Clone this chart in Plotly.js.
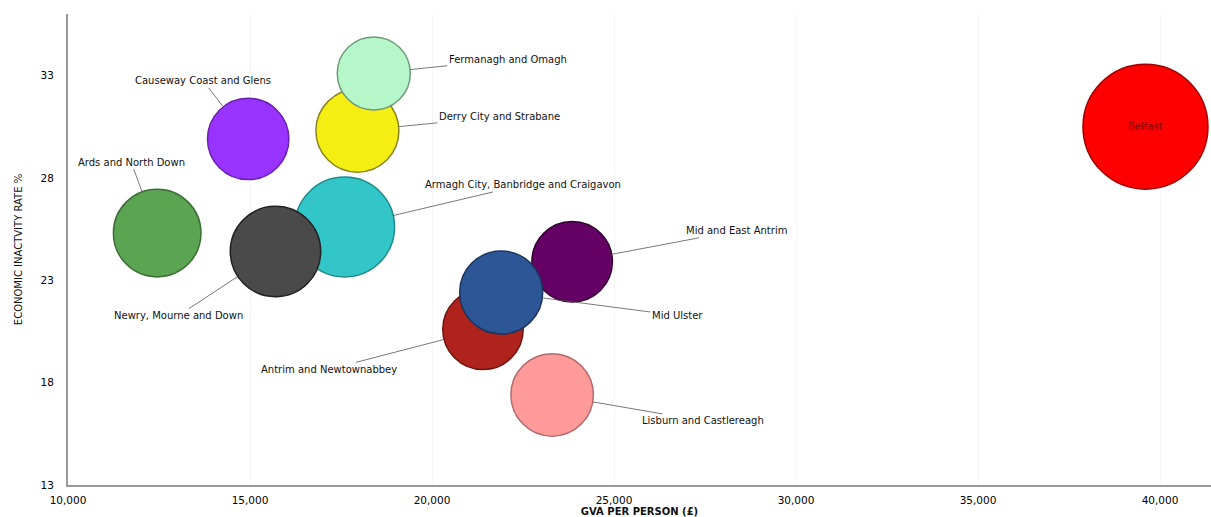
<!DOCTYPE html>
<html>
<head>
<meta charset="utf-8">
<script src="https://cdn.plot.ly/plotly-3.0.1.min.js"></script>
<style>html,body{margin:0;padding:0;background:#fff;}#chart{width:1211px;height:517px;}</style>
</head>
<body>
<div id="chart"></div>
<script>
// Council areas (alphabetical order, which also gives the drawing order)
const councils = [
  "Antrim and Newtownabbey",
  "Ards and North Down",
  "Armagh City, Banbridge and Craigavon",
  "Belfast",
  "Causeway Coast and Glens",
  "Derry City and Strabane",
  "Fermanagh and Omagh",
  "Lisburn and Castlereagh",
  "Mid and East Antrim",
  "Mid Ulster",
  "Newry, Mourne and Down"
];
// GVA per person (£)
const gvaPerPerson = [21400, 12450, 17600, 39600, 14950, 17950, 18400, 23300, 23850, 21900, 15700];
// Economic inactivity rate %
const inactivityRate = [20.6, 25.3, 25.6, 30.5, 29.9, 30.3, 33.1, 17.4, 23.9, 22.4, 24.4];
// Population (thousands) - bubble size
const population = [141, 167, 217, 340, 144, 150, 116, 148, 141, 150, 178];

const fillColors = ["#b0231d", "#5ba452", "#33c6c8", "#ff0000", "#9933ff", "#f5ee12", "#b5f7c9", "#ff9a9a", "#650064", "#2d5696", "#4a4a4a"];
const edgeColors = ["#6e1410", "#3c6e36", "#1f8a8a", "#a00000", "#6a1fb0", "#8a8420", "#6f9a7c", "#b36a6a", "#300030", "#1c355e", "#222222"];

// label offsets (px) from bubble centre
const labelOffsets = {
  "Antrim and Newtownabbey": [-154, 40],
  "Ards and North Down": [-26, -71],
  "Armagh City, Banbridge and Craigavon": [178, -42],
  "Causeway Coast and Glens": [-45, -58],
  "Derry City and Strabane": [142, -14],
  "Fermanagh and Omagh": [134, -14],
  "Lisburn and Castlereagh": [151, 26],
  "Mid and East Antrim": [164, -31],
  "Mid Ulster": [176, 23],
  "Newry, Mourne and Down": [-97, 64]
};

const maxDiam = 125;
const sizeref = 2 * population.reduce((a, b) => Math.max(a, b)) / (maxDiam * maxDiam);

const trace = {
  type: "scatter",
  mode: "markers",
  x: gvaPerPerson,
  y: inactivityRate,
  text: councils,
  hoverinfo: "text",
  marker: {
    size: population,
    sizemode: "area",
    sizeref: sizeref,
    color: fillColors,
    opacity: 1,
    line: { color: edgeColors, width: 1.5 }
  },
  showlegend: false
};

const annotations = councils.map((name, i) => {
  const diam = Math.sqrt(2 * population[i] / sizeref);
  if (name === "Belfast") {
    return {
      x: gvaPerPerson[i], y: inactivityRate[i], xref: "x", yref: "y",
      text: name, showarrow: false,
      font: { family: "DejaVu Sans", size: 10, color: "#7a0000" }
    };
  }
  const off = labelOffsets[name];
  return {
    x: gvaPerPerson[i], y: inactivityRate[i], xref: "x", yref: "y",
    text: name, showarrow: true, arrowhead: 0, arrowwidth: 0.8, arrowcolor: "#555",
    ax: off[0], ay: off[1], standoff: diam / 2, borderpad: 1,
    font: { family: "DejaVu Sans", size: 10, color: "#111" }
  };
});

const layout = {
  width: 1211, height: 517,
  margin: { l: 68, r: 0, t: 14, b: 32 },
  paper_bgcolor: "#fff", plot_bgcolor: "#fff",
  xaxis: {
    range: [10000, 41400],
    tickvals: [10000, 15000, 20000, 25000, 30000, 35000, 40000],
    ticktext: ["10,000", "15,000", "20,000", "25,000", "30,000", "35,000", "40,000"],
    showgrid: true, gridcolor: "#f5f5f5", gridwidth: 1,
    zeroline: false,
    showline: true, linecolor: "#9a9a9a", linewidth: 2,
    ticks: "", ticklabelstandoff: 4,
    tickfont: { family: "DejaVu Sans", size: 10.5, color: "#000" },
    title: { text: "<b>GVA PER PERSON (£)</b>", standoff: 6, font: { family: "DejaVu Sans", size: 10, color: "#111" } },
    fixedrange: true
  },
  yaxis: {
    range: [13, 36],
    tickvals: [13, 18, 23, 28, 33],
    showgrid: false,
    zeroline: false,
    showline: true, linecolor: "#9a9a9a", linewidth: 2,
    ticks: "", ticklabelstandoff: 10,
    tickfont: { family: "DejaVu Sans", size: 10.5, color: "#000" },
    title: { text: "ECONOMIC INACTVITY RATE %", standoff: 16, font: { family: "DejaVu Sans", size: 10, color: "#111" } },
    fixedrange: true
  },
  annotations: annotations,
  showlegend: false
};

Plotly.newPlot("chart", [trace], layout, { displayModeBar: false, staticPlot: true });
</script>
</body>
</html>
